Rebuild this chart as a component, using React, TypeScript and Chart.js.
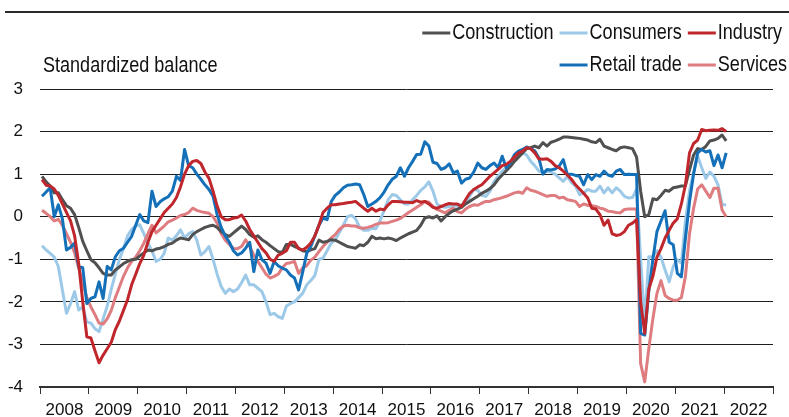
import React, { useEffect, useRef } from 'react';
import { Chart, registerables } from 'chart.js';

Chart.register(...registerables);

// ---------- data (monthly, Jan 2008 - Jan 2022) ----------
const years = ['2008', '2009', '2010', '2011', '2012', '2013', '2014', '2015', '2016', '2017', '2018', '2019', '2020', '2021', '2022'];
const yMin = -4;
const yMax = 3;
const axisTitle = 'Standardized balance';

const construction = [
  0.95, 0.82, 0.72, 0.56, 0.56, 0.4, 0.26, 0.2, 0.05, -0.25, -0.58, -0.8,
  -1.01, -1.08, -1.2, -1.33, -1.37, -1.37, -1.25, -1.18, -1.1, -1.05, -1.01, -1.0,
  -0.92, -0.85, -0.78, -0.8, -0.76, -0.74, -0.7, -0.65, -0.62, -0.55, -0.5, -0.52,
  -0.54, -0.42, -0.35, -0.3, -0.25, -0.22, -0.2, -0.25, -0.35, -0.42, -0.46, -0.38,
  -0.3, -0.22, -0.3, -0.42, -0.48, -0.45, -0.54, -0.6, -0.68, -0.75, -0.82, -0.84,
  -0.65, -0.65, -0.7, -0.74, -0.8, -0.82, -0.78, -0.75, -0.55, -0.6, -0.58, -0.54,
  -0.55, -0.6, -0.65, -0.7, -0.72, -0.74, -0.66, -0.68, -0.6, -0.46, -0.52, -0.5,
  -0.52, -0.5, -0.52, -0.56, -0.5, -0.45, -0.4, -0.36, -0.32, -0.2, -0.03, 0.0,
  -0.03, 0.02, -0.1, 0.0, 0.08, 0.14, 0.18, 0.22, 0.3, 0.36, 0.42, 0.48,
  0.55, 0.6, 0.66, 0.75, 0.88, 0.98, 1.08, 1.18, 1.3, 1.4, 1.5, 1.6,
  1.62, 1.66, 1.62, 1.74, 1.66, 1.75, 1.78, 1.82, 1.87, 1.87, 1.86, 1.85,
  1.84, 1.82, 1.8, 1.76, 1.74, 1.82, 1.66, 1.62, 1.58, 1.55, 1.62, 1.64,
  1.62, 1.6, 1.4, 0.6, 0.0, 0.05, 0.42, 0.4, 0.5, 0.62, 0.6, 0.68,
  0.7, 0.72, 0.73, 1.1, 1.45, 1.6, 1.58, 1.65, 1.78, 1.8, 1.84, 1.92,
  1.78,
];

const consumers = [
  -0.68, -0.78, -0.86, -0.95, -1.17, -1.72, -2.27, -2.04, -1.76, -2.19, -2.12, -2.47,
  -2.5, -2.63, -2.7, -2.4, -2.1, -1.7, -1.35, -1.0, -0.75, -0.45, -0.3, -0.22,
  -0.19, -0.4, -0.62, -0.8, -1.05, -1.0, -0.86, -0.5, -0.55, -0.45, -0.31, -0.5,
  -0.4, -0.35, -0.55, -0.9, -0.82, -0.7, -1.0, -1.35, -1.64, -1.8, -1.7, -1.76,
  -1.7, -1.55, -1.37, -1.6, -1.6, -1.68, -1.76, -2.0, -2.3, -2.27, -2.35, -2.39,
  -2.1, -2.04, -2.0, -1.9, -1.8, -1.6, -1.5, -1.38, -1.0, -0.97, -0.8, -0.62,
  -0.55, -0.37, -0.2, 0.0, 0.03, -0.05, -0.25, -0.32, -0.32, -0.27, -0.28, -0.1,
  0.15, 0.4, 0.52, 0.5, 0.4, 0.3, 0.3, 0.4, 0.5, 0.62, 0.7, 0.82,
  0.6, 0.3, 0.24, 0.22, 0.24, 0.25, 0.26, 0.28, 0.3, 0.48, 0.64, 0.62,
  0.5, 0.48, 0.6, 0.83, 0.95, 1.07, 1.15, 1.2, 1.34, 1.42, 1.5, 1.45,
  1.3, 1.2, 1.07, 1.05, 1.07, 1.05, 1.0, 0.91, 0.83, 0.95, 0.8, 0.72,
  0.52, 0.56, 0.64, 0.6, 0.6, 0.72, 0.56, 0.68, 0.56, 0.68, 0.6, 0.48,
  0.44, 0.45, 0.65, -1.0, -2.5, -0.94, -0.94, -0.8, -0.95, -1.25, -1.53, -1.17,
  -1.01, -1.09, -0.1, 0.6, 1.05, 1.42, 1.15, 0.9, 1.05, 0.95, 0.75, 0.28,
  0.28,
];

const industry = [
  0.87, 0.74, 0.72, 0.65, 0.5, 0.3, 0.1, -0.1, -0.45, -1.1, -2.0, -2.82,
  -2.85, -3.15, -3.43, -3.25, -3.1, -2.95, -2.65, -2.45, -2.2, -1.95, -1.6, -1.35,
  -1.1, -0.9, -0.6, -0.35, -0.2, -0.05, 0.1, 0.2, 0.3, 0.45, 0.7, 1.0,
  1.2, 1.3, 1.32, 1.25, 1.05, 0.9, 0.6, 0.25, 0.0, -0.07, -0.07, -0.03,
  -0.02, 0.04, -0.1, -0.3, -0.45, -0.6, -0.75, -0.85, -1.0, -1.05, -0.9, -0.86,
  -0.8, -0.6, -0.6, -0.75, -0.78, -0.72, -0.62, -0.45, -0.2, 0.1, 0.2, 0.28,
  0.28, 0.3, 0.31, 0.33, 0.34, 0.36, 0.28, 0.2, 0.13, 0.2, 0.13, 0.18,
  0.16, 0.28, 0.36, 0.36, 0.35, 0.34, 0.34, 0.33, 0.38, 0.34, 0.36, 0.3,
  0.22, 0.2, 0.24, 0.28, 0.31, 0.3, 0.3, 0.24, 0.4, 0.55, 0.64, 0.7,
  0.75, 0.85, 0.95, 1.03, 1.11, 1.2, 1.23, 1.3, 1.4, 1.5, 1.54, 1.62,
  1.6, 1.5, 1.36, 1.35, 1.36, 1.3, 1.2, 1.15, 1.07, 0.98, 0.88, 0.75,
  0.65, 0.55, 0.44, 0.2, 0.18, 0.05, -0.2, -0.08, -0.4, -0.44, -0.42, -0.35,
  -0.2, -0.15, -0.07, -2.0, -2.74, -1.7, -1.4, -0.95, -0.75, -0.5, -0.32, -0.15,
  -0.05, 0.3, 0.75, 1.5, 1.72, 1.8, 2.05, 2.02, 2.03, 2.04, 2.03, 2.07,
  2.0,
];

const retailTrade = [
  0.48, 0.58, 0.68, 0.0, 0.28, -0.05, -0.78, -0.72, -0.62, -1.17, -1.2, -2.04,
  -1.92, -1.88, -1.53, -1.92, -1.17, -1.25, -0.94, -0.8, -0.74, -0.6, -0.46, -0.2,
  0.05, -0.1, -0.14, 0.6, 0.24, 0.35, 0.42, 0.47, 0.6, 0.95, 0.85, 1.58,
  1.2, 1.15, 1.0, 0.88, 0.75, 0.64, 0.48, 0.05, -0.25, -0.45, -0.6, -0.8,
  -0.9, -0.85, -0.74, -0.6, -1.29, -0.78, -1.01, -1.09, -1.33, -1.05, -1.15, -1.21,
  -1.25, -1.37, -1.44, -1.72, -1.3, -0.86, -0.7, -0.45, -0.2, -0.03, -0.07, 0.35,
  0.5, 0.58, 0.68, 0.74, 0.75, 0.77, 0.75, 0.52, 0.24, 0.3, 0.36, 0.45,
  0.58, 0.75, 0.88, 0.95, 1.15, 0.95, 1.15, 1.3, 1.46, 1.47, 1.76, 1.66,
  1.28, 1.25, 1.11, 1.15, 1.24, 1.03, 1.07, 0.79, 0.88, 0.91, 1.05, 1.26,
  1.15, 1.11, 1.2, 1.26, 1.15, 1.42, 1.15, 1.26, 1.46, 1.54, 1.58, 1.64,
  1.6, 1.55, 1.38, 1.0, 1.11, 1.1, 1.12, 1.19, 1.34, 0.99, 1.0, 0.97,
  0.95, 0.75, 0.99, 0.87, 0.99, 0.95, 1.07, 0.98, 0.95, 1.07, 1.11, 0.99,
  1.0, 0.99, 0.99, -2.74, -2.78, -1.75, -1.0, -0.35, -0.1, 0.14, -0.6, -0.66,
  -1.33, -1.41, -0.5, 0.35, 1.0, 1.5, 1.58, 1.52, 1.55, 1.2, 1.45, 1.15,
  1.5,
];

const services = [
  0.15, 0.08, 0.0, -0.1, -0.06, -0.2, -0.4, -0.6, -0.85, -1.2, -1.55, -1.9,
  -2.12, -2.3, -2.5, -2.52, -2.4, -2.2, -1.9, -1.65, -1.4, -1.2, -1.05, -0.95,
  -0.8, -0.62, -0.4, -0.2, -0.38, -0.3, -0.22, -0.12, -0.08, -0.03, 0.03, 0.05,
  0.1, 0.2, 0.15, 0.12, 0.1, 0.08, 0.0, -0.15, -0.4, -0.55, -0.65, -0.75,
  -0.75, -0.7, -0.54, -0.7, -0.9, -1.05, -1.2, -1.35, -1.44, -1.4, -1.35, -1.2,
  -1.1, -1.08, -1.05, -1.33, -1.2, -1.15, -1.02, -0.95, -0.82, -0.7, -0.6, -0.5,
  -0.42, -0.3, -0.22, -0.2, -0.22, -0.22, -0.26, -0.27, -0.25, -0.22, -0.18, -0.15,
  -0.15, -0.14, -0.11, -0.08, -0.04, 0.03, 0.1, 0.16, 0.22, 0.28, 0.36, 0.34,
  0.24, 0.17, 0.13, 0.09, 0.15, 0.2, 0.12, 0.09, 0.18, 0.24, 0.28, 0.27,
  0.32, 0.36, 0.36, 0.4, 0.42, 0.45, 0.48, 0.52, 0.56, 0.58, 0.55, 0.68,
  0.62, 0.6, 0.56, 0.52, 0.48, 0.5, 0.5, 0.44, 0.46, 0.4, 0.38, 0.36,
  0.24, 0.3, 0.27, 0.26, 0.24, 0.2, 0.18, 0.13, 0.12, 0.1, 0.09, 0.17,
  0.18, 0.18, 0.18, -3.45, -3.88, -3.1, -2.4, -1.8, -1.5, -1.85, -1.92, -1.96,
  -1.96, -1.9, -1.4, -0.4, 0.2, 0.65, 0.75, 0.6, 0.45, 0.67, 0.67, 0.16,
  0.0,
];

// legend layout: three columns, two rows
const legendRow1 = ['Construction', 'Consumers', 'Industry'];
const legendRow2 = ['', 'Retail trade', 'Services'];

const FONT_FAMILY = "'Liberation Sans', Arial, sans-serif";
const NARROW = 0.82; // emulate a narrow face by horizontal scaling
const TEXT_COLOR = '#111';
const GRID_COLOR = '#1e1e1e';

const MONTHS = 12;

function toPoints(values: number[]) {
  return values.map((y, i) => ({ x: i + 0.5, y }));
}

function narrowText(ctx: CanvasRenderingContext2D, text: string, x: number, y: number) {
  ctx.save();
  ctx.translate(x, y);
  ctx.scale(NARROW, 1);
  ctx.fillText(text, 0, 0);
  ctx.restore();
}

const decorPlugin = {
  id: 'decor',
  afterDraw(chart: any) {
    const ctx: CanvasRenderingContext2D = chart.ctx;
    ctx.save();
    // top rule
    ctx.strokeStyle = '#2a2a2a';
    ctx.lineWidth = 2;
    ctx.beginPath();
    ctx.moveTo(5, 12);
    ctx.lineTo(chart.width, 12);
    ctx.stroke();

    ctx.font = `22px ${FONT_FAMILY}`;
    ctx.textBaseline = 'middle';
    ctx.textAlign = 'left';
    ctx.fillStyle = TEXT_COLOR;
    narrowText(ctx, axisTitle, 43, 66);

    const datasets = chart.data.datasets;
    const colorOf = (label: string) => {
      const d = datasets.find((ds: any) => ds.label === label);
      return d ? d.borderColor : '#000';
    };
    const rows = [legendRow1, legendRow2];
    const rowY = [33, 65];
    const markerLen = 28;
    const markerGap = 2;
    const colGap = 6;
    const right = 787;
    const colW = [0, 0, 0];
    rows.forEach((row) => row.forEach((label, c) => {
      if (!label) return;
      const w = markerLen + markerGap + ctx.measureText(label).width * NARROW;
      colW[c] = Math.max(colW[c], w);
    }));
    const colX = [0, 0, 0];
    colX[2] = right - colW[2];
    colX[1] = colX[2] - colGap - colW[1];
    colX[0] = colX[1] - colGap - colW[0];
    rows.forEach((row, r) => row.forEach((label, c) => {
      if (!label) return;
      const x = colX[c];
      const y = rowY[r];
      ctx.strokeStyle = colorOf(label);
      ctx.lineWidth = 3;
      ctx.lineCap = 'butt';
      ctx.beginPath();
      ctx.moveTo(x, y);
      ctx.lineTo(x + markerLen, y);
      ctx.stroke();
      ctx.fillStyle = TEXT_COLOR;
      narrowText(ctx, label, x + markerLen + markerGap, y);
    }));
    ctx.restore();
  },
};

export default function App() {
  const ref = useRef<HTMLCanvasElement>(null);

  useEffect(() => {
    document.body.style.margin = '0';
    const canvas = ref.current;
    if (!canvas) return;

    const series = [
      { label: 'Construction', values: construction, color: '#505050', order: 2 },
      { label: 'Consumers', values: consumers, color: '#9dc9e8', order: 4 },
      { label: 'Industry', values: industry, color: '#c0272d', order: 0 },
      { label: 'Retail trade', values: retailTrade, color: '#1470b8', order: 1 },
      { label: 'Services', values: services, color: '#de7c80', order: 3 },
    ];

    const chart = new Chart(canvas, {
      type: 'line',
      data: {
        datasets: series.map((s) => ({
          label: s.label,
          data: toPoints(s.values),
          borderColor: s.color,
          backgroundColor: s.color,
          borderWidth: 3,
          pointRadius: 0,
          pointHoverRadius: 0,
          tension: 0,
          fill: false,
          order: s.order,
          borderJoinStyle: 'round' as const,
        })),
      },
      options: {
        responsive: false,
        animation: false,
        events: [],
        layout: { padding: { top: 89, right: 16, bottom: 0, left: 0 } },
        plugins: {
          legend: { display: false },
          tooltip: { enabled: false },
          title: { display: false },
        },
        scales: {
          x: {
            type: 'linear',
            position: 'bottom',
            min: 0,
            max: years.length * MONTHS,
            weight: 0,
            afterBuildTicks: (scale: any) => {
              scale.ticks = years.map((_, k) => ({ value: k * MONTHS })).concat([{ value: years.length * MONTHS }]);
            },
            ticks: { display: false },
            grid: { drawOnChartArea: false, drawTicks: true, tickLength: 7, color: '#333', lineWidth: 1 },
            border: { display: true, color: '#333', width: 2 },
            afterFit: (scale: any) => { scale.height = 8; },
          },
          xYears: {
            type: 'category',
            position: 'bottom',
            labels: years,
            offset: true,
            weight: 1,
            grid: { display: false },
            border: { display: false },
            ticks: {
              autoSkip: false,
              maxRotation: 0,
              padding: -3,
              color: TEXT_COLOR,
              font: { family: FONT_FAMILY, size: 17 },
            },
            afterFit: (scale: any) => { scale.height = 22; },
          },
          y: {
            type: 'linear',
            min: yMin,
            max: yMax,
            ticks: {
              stepSize: 1,
              padding: 17,
              color: TEXT_COLOR,
              font: { family: FONT_FAMILY, size: 17 },
            },
            grid: { color: GRID_COLOR, lineWidth: 1, drawTicks: false },
            border: { display: false },
            afterFit: (scale: any) => { scale.width = 40; },
          },
        },
      },
      plugins: [decorPlugin],
    } as any);

    return () => chart.destroy();
  }, []);

  return <canvas ref={ref} width={789} height={417} style={{ display: 'block' }} />;
}
